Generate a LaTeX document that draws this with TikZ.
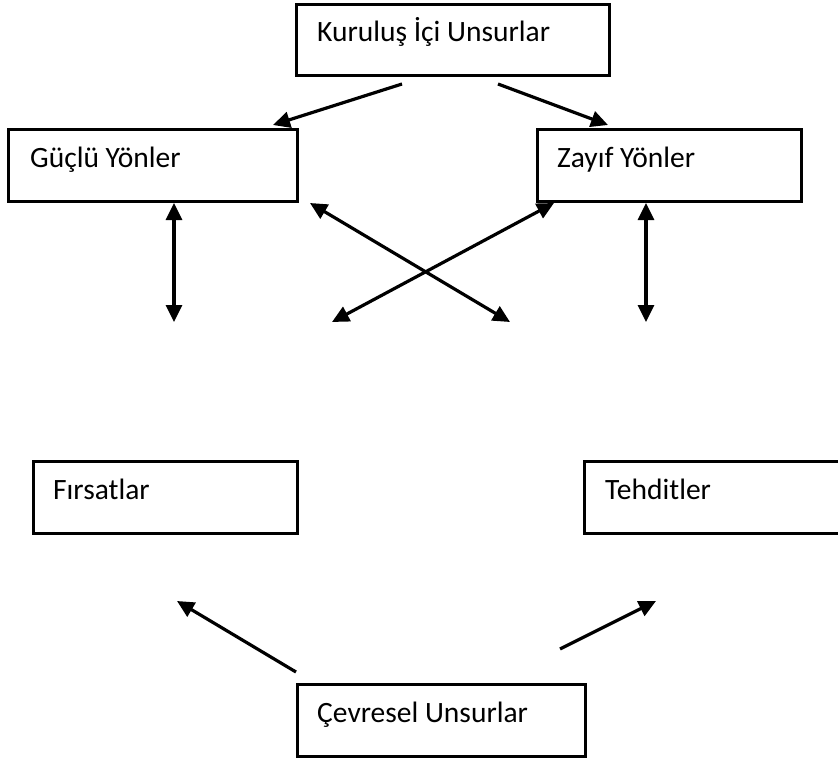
\documentclass[tikz,border=0pt]{standalone}
\usepackage{fontspec}
\setmainfont{Carlito}
\usetikzlibrary{arrows.meta}
\begin{document}
\begin{tikzpicture}[x=1pt,y=-1pt,
  box/.style={draw=black, line width=2.6pt, fill=white, rectangle, inner sep=0pt, anchor=north west},
  lbl/.style={anchor=base west, inner sep=0pt, font=\fontsize{29.5}{35}\selectfont},
  tip/.style={Triangle[length=17pt,width=16pt]},
  arr/.style={line width=3.2pt, -{Triangle[length=17pt,width=16pt]}},
  darr/.style={line width=3.2pt, {Triangle[length=17pt,width=16pt]}-{Triangle[length=17pt,width=16pt]}}]
\clip (0,0) rectangle (838,760);
\fill[white] (0,0) rectangle (838,760);

% boxes
\node[box, minimum width=313pt, minimum height=71pt] (kurulus) at (295,3) {};
\node[box, minimum width=289pt, minimum height=72pt] (guclu) at (7,128) {};
\node[box, minimum width=264pt, minimum height=72pt] (zayif) at (536,128) {};
\node[box, minimum width=264pt, minimum height=72pt] (firsat) at (32,460) {};
\node[box, minimum width=300pt, minimum height=72pt] (tehdit) at (583,460) {};
\node[box, minimum width=288pt, minimum height=72pt] (cevre) at (296,683) {};

% labels
\node[lbl] (tk) at (317,42) {Kuruluş İçi Unsurlar};
\node[lbl] (tg) at (30,167) {Güçlü Yönler};
\node[lbl] (tz) at (557,167) {Zayıf Yönler};
\node[lbl] (tf) at (53,499) {Fırsatlar};
\node[lbl] (tt) at (605,499) {Tehditler};
\node[lbl] (tc) at (317,722) {Çevresel Unsurlar};

% connector end points
\coordinate (k1) at (402,84);
\coordinate (k2) at (498,84);
\coordinate (g1) at (273,125);
\coordinate (z1) at (608,125);
\coordinate (ga) at (174,203);
\coordinate (gb) at (174,322);
\coordinate (za) at (646,203);
\coordinate (zb) at (646,322);
\coordinate (xa) at (310,203);
\coordinate (xb) at (510,322);
\coordinate (ya) at (554,203);
\coordinate (yb) at (332,322);
\coordinate (c1) at (296,672);
\coordinate (f1) at (177,601);
\coordinate (c2) at (560,649);
\coordinate (t1) at (656,601);

% connectors
\draw[arr] (k1) -- (g1);
\draw[arr] (k2) -- (z1);
\draw[darr] (ga) -- (gb);
\draw[darr] (za) -- (zb);
\draw[darr] (xa) -- (xb);
\draw[darr] (ya) -- (yb);
\draw[arr] (c1) -- (f1);
\draw[arr] (c2) -- (t1);
\end{tikzpicture}
\end{document}
